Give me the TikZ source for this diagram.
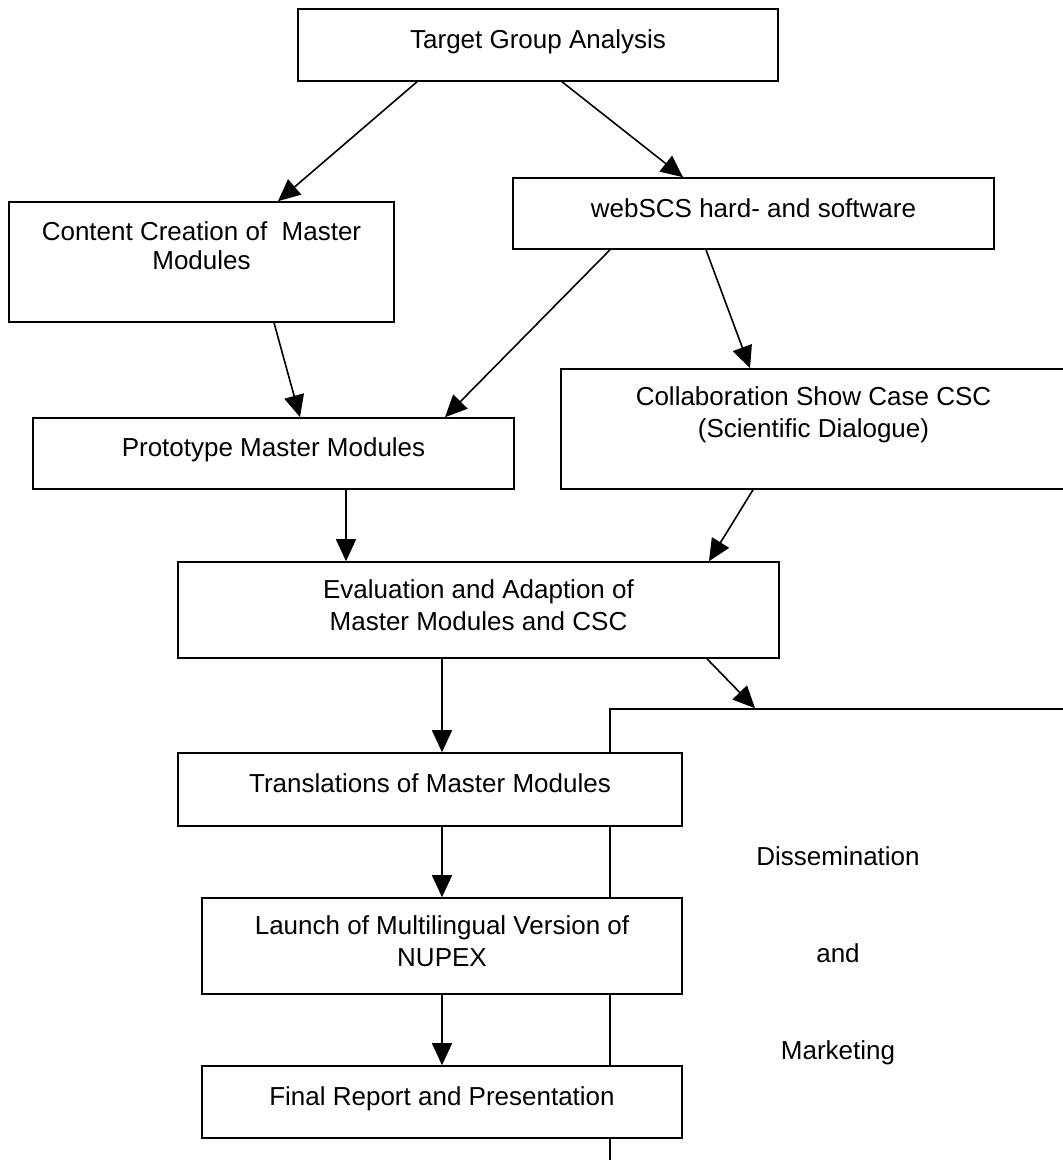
\documentclass[tikz,border=0pt]{standalone}
\usepackage{fontspec}
\setmainfont{Liberation Sans}
\usetikzlibrary{arrows.meta,positioning}
\tikzset{
  wpbox/.style={draw, fill=white, line width=0.8pt, inner sep=0pt},
  wptext/.style={inner sep=0pt, align=center, font=\fontsize{13pt}{16pt}\selectfont},
  flow/.style={line width=0.8pt, -{Triangle[length=11pt,width=10pt]}}
}

\begin{document}
\begin{tikzpicture}[x=0.5pt,y=-0.5pt]
\useasboundingbox (0,0) rectangle (1062,1160);

\node[wpbox, wptext, font=\fontsize{13pt}{48.5pt}\selectfont,
  minimum width=228pt, minimum height=247pt] (dm) at (838,956) {Dissemination\\and\\Marketing};

\node[wpbox, minimum width=240pt, minimum height=36pt] (tga) at (538,45) {};
\node[wpbox, minimum width=192.5pt, minimum height=60pt] (ccm) at (201.5,262) {};
\node[wpbox, minimum width=240.5pt, minimum height=35.5pt] (web) at (753.5,213.5) {};
\node[wpbox, minimum width=240.5pt, minimum height=35.5pt] (pmm) at (273.5,453.5) {};
\node[wpbox, minimum width=252.5pt, minimum height=60pt] (csc) at (813.5,429) {};
\node[wpbox, minimum width=300.5pt, minimum height=48pt] (eval) at (478.5,610) {};
\node[wpbox, minimum width=252pt, minimum height=36.5pt] (trans) at (430,789.5) {};
\node[wpbox, minimum width=240pt, minimum height=48pt] (launch) at (442,946) {};
\node[wpbox, minimum width=240pt, minimum height=36pt] (final) at (442,1102) {};

\node[wptext, below=10.5pt of tga.north] (tga-t) {Target Group Analysis};
\node[wptext, below=10pt of ccm.north, font=\fontsize{13pt}{14.5pt}\selectfont] (ccm-t) {Content Creation of~ Master\\Modules};
\node[wptext, below=10.5pt of web.north] (web-t) {webSCS hard- and software};
\node[wptext, below=10pt of pmm.north] (pmm-t) {Prototype Master Modules};
\node[wptext, below=9pt of csc.north] (csc-t) {Collaboration Show Case CSC\\(Scientific Dialogue)};
\node[wptext, below=9pt of eval.north] (eval-t) {Evaluation and Adaption of\\Master Modules and CSC};
\node[wptext, below=10.5pt of trans.north] (trans-t) {Translations of Master Modules};
\node[wptext, below=9pt of launch.north] (launch-t) {Launch of Multilingual Version of\\NUPEX};
\node[wptext, below=10.5pt of final.north] (final-t) {Final Report and Presentation};

\draw[flow] ([xshift=-60.5pt]tga.south) -- ([xshift=38.25pt]ccm.north);
\draw[flow] ([xshift=12pt]tga.south) -- ([xshift=-35.25pt]web.north);
\draw[flow] ([xshift=36.25pt]ccm.south) -- ([xshift=13.25pt]pmm.north);
\draw[flow] ([xshift=-71.75pt]web.south) -- ([xshift=85.75pt]pmm.north);
\draw[flow] ([xshift=-23.75pt]web.south) -- ([xshift=-31.75pt]csc.north);
\draw[flow] ([xshift=36.25pt]pmm.south) -- ([xshift=-66.25pt]eval.north);
\draw[flow] ([xshift=-30.25pt]csc.south) -- ([xshift=115.25pt]eval.north);
\draw[flow] ([xshift=-18.25pt]eval.south) -- ([xshift=6pt]trans.north);
\draw[flow] ([xshift=114.25pt]eval.south) -- ([xshift=-41.5pt]dm.north);
\draw[flow] ([xshift=6pt]trans.south) -- (launch.north);
\draw[flow] (launch.south) -- (final.north);
\end{tikzpicture}
\end{document}
